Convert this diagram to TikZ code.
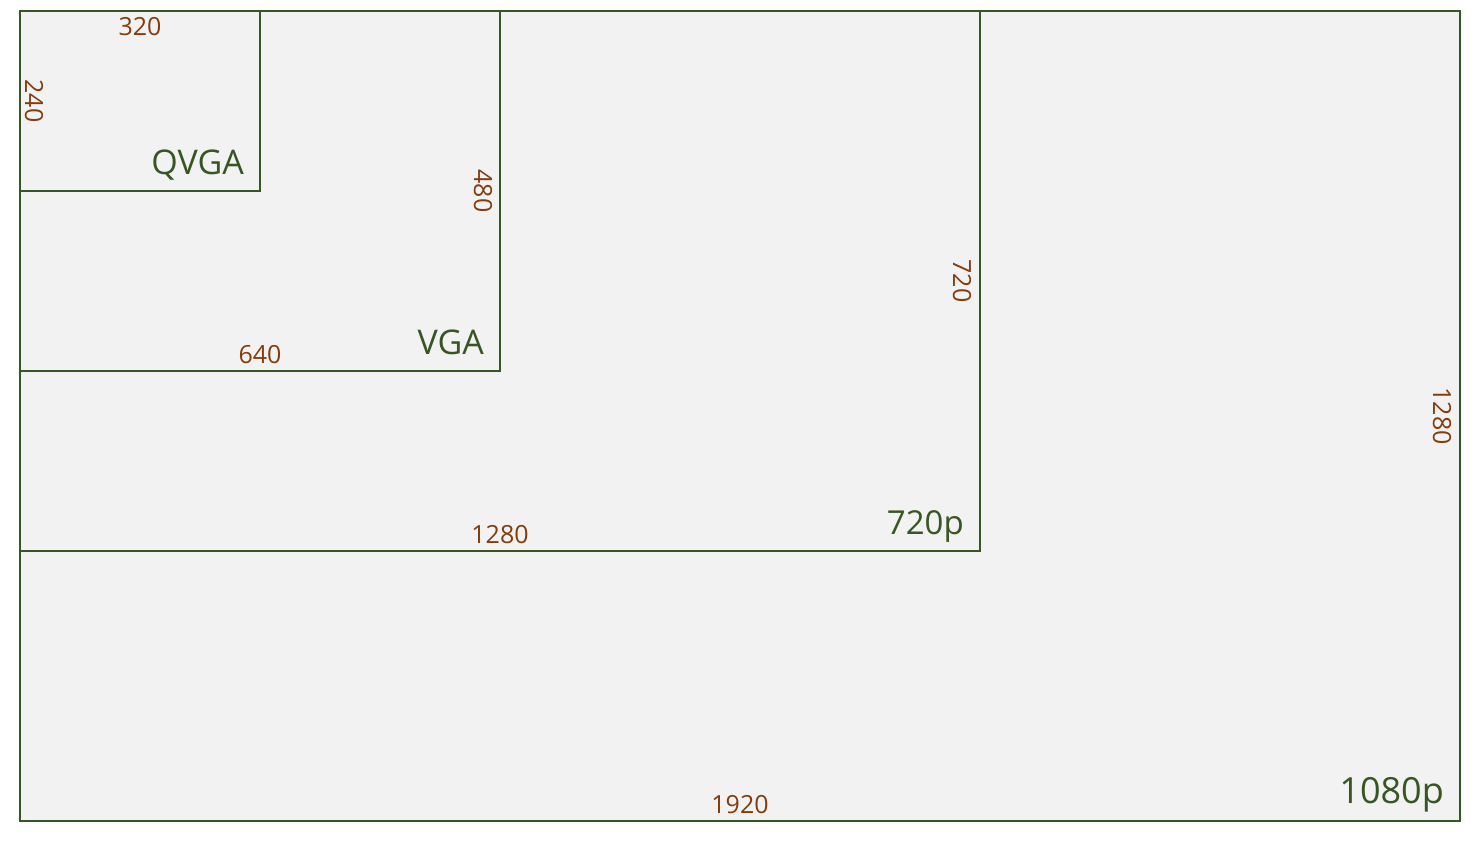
\documentclass[tikz,border=0pt]{standalone}
\usepackage{fontspec}
\setmainfont{Open Sans}
\definecolor{frame}{HTML}{375623}
\definecolor{dim}{HTML}{843C0C}
\definecolor{bg}{HTML}{F2F2F2}
\begin{document}
\begin{tikzpicture}[x=1pt,y=-1pt,
  frm/.style={draw=frame, line width=2pt},
  res/.style={text=frame, inner sep=0pt, anchor=base east, font=\fontsize{34}{40}\selectfont},
  dimh/.style={text=dim, inner sep=0pt, anchor=base, font=\fontsize{25}{30}\selectfont},
  dimv/.style={text=dim, inner sep=0pt, anchor=center, rotate=-90, font=\fontsize{25}{30}\selectfont}]
\useasboundingbox (0,0) rectangle (1471,840);
\coordinate (o) at (20,11);
\coordinate (q) at (260,191);
\coordinate (v) at (500,371);
\coordinate (h) at (980,551);
\coordinate (f) at (1460,821);
\fill[bg] (o) rectangle (f);
\draw[frm] (o) rectangle (f);
\draw[frm] (o) rectangle (h);
\draw[frm] (o) rectangle (v);
\draw[frm] (o) rectangle (q);
% resolution names
\node[res] (nq) at ([shift={(-16,-17)}]q) {QVGA};
\node[res] (nv) at ([shift={(-16,-17)}]v) {VGA};
\node[res, font=\fontsize{33}{39}\selectfont] (nh) at ([shift={(-16,-17)}]h) {720p};
\node[res, font=\fontsize{36}{42}\selectfont] (nf) at ([shift={(-16,-18)}]f) {1080p};
% widths
\node[dimh] (wq) at (140,36) {320};
\node[dimh] (wv) at (260,363) {640};
\node[dimh] (wh) at (500,543) {1280};
\node[dimh] (wf) at (740,813) {1920};
% heights
\node[dimv] (hq) at (34,101) {240};
\node[dimv] (hv) at (483,191) {480};
\node[dimv] (hh) at (962,281) {720};
\node[dimv] (hf) at (1442,416) {1280};
\end{tikzpicture}
\end{document}
